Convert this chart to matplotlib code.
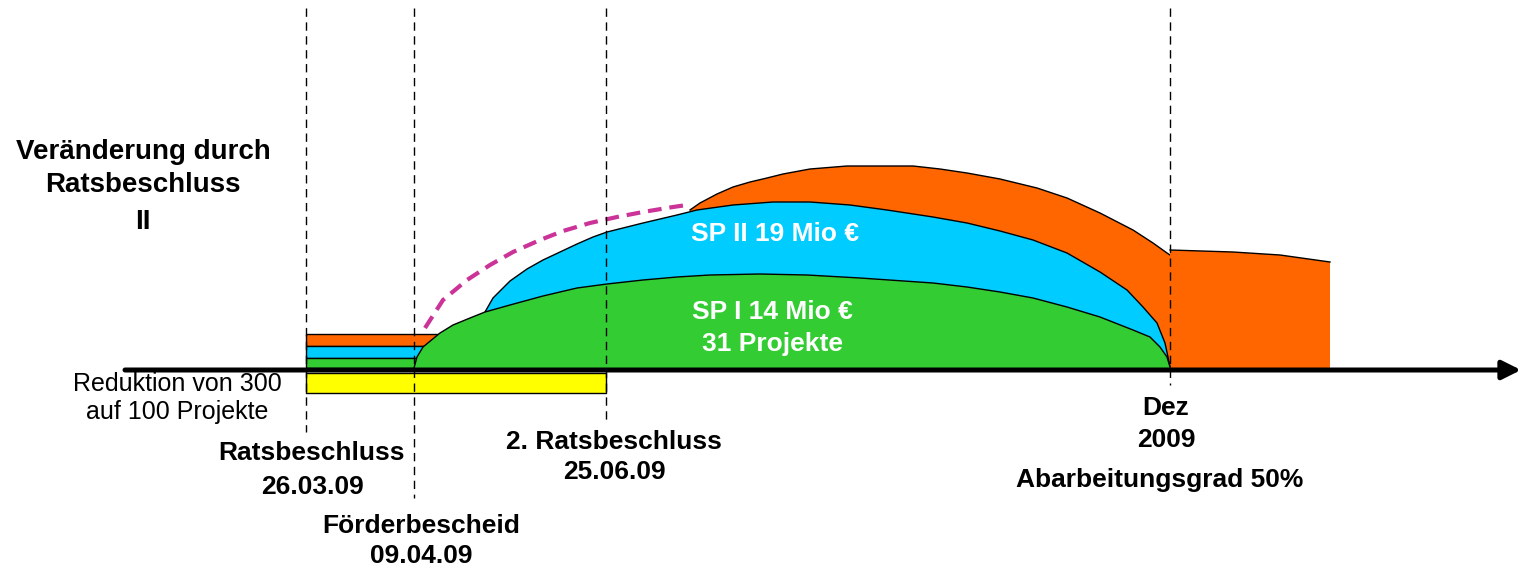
import matplotlib
matplotlib.use("Agg")
import matplotlib.pyplot as plt

plt.rcParams['font.family'] = ['Liberation Sans', 'DejaVu Sans']

# heights above the time axis (pixels of the original drawing)
green_x = [414, 417, 423, 440, 453, 470, 485, 510, 543, 577, 607, 643, 677, 710, 760, 807, 860,
           933, 967, 1000, 1033, 1067, 1100, 1133, 1150, 1160, 1167, 1170]
green_h = [2, 13, 23, 37, 45, 52, 58, 65, 74, 82, 86, 90, 93, 95, 96, 95, 92,
           87, 83, 78, 72, 63, 53, 40, 33, 23, 13, 3]

blue_x = [485, 493, 510, 527, 543, 560, 577, 593, 607, 643, 677, 697, 733, 773, 810, 850, 887,
          933, 967, 1000, 1033, 1067, 1100, 1127, 1143, 1157, 1165, 1168, 1170]
blue_h = [58, 72, 89, 101, 110, 118, 126, 133, 138, 147, 155, 160, 165, 168, 168, 165, 160,
          153, 147, 139, 130, 117, 98, 80, 63, 47, 27, 13, 3]

orange_x = [690, 700, 717, 733, 750, 767, 783, 810, 847, 913, 940, 967, 1000, 1037, 1067,
            1100, 1133, 1153, 1167, 1170]
orange_h = [160, 167, 176, 183, 188, 192, 196, 201, 204, 204, 201, 197, 191, 182, 172,
            157, 140, 127, 117, 115]

rest_x = [1170, 1233, 1280, 1330]
rest_h = [120, 118, 115, 108]

plan_x = [425, 443, 467, 490, 513, 540, 563, 590, 617, 643, 673, 687]
plan_h = [42, 70, 90, 105, 118, 130, 139, 147, 153, 158, 163, 165]

# old planning before the council decision (left bars)
bar_x = [306, 440]
bar_levels = [(24, 36, '#FF6600'), (12, 24, '#00CCFF'), (2, 12, '#33CC33')]
yellow_x = [306, 606]
yellow_h = [-3, -23]

event_x = [306, 414, 606, 1170]
event_bottom = [-62, -128, -52, -15]

fig = plt.figure(figsize=(15.21, 5.70), dpi=100)
ax = fig.add_axes([0, 0, 1, 1])
ax.set_xlim(0, 1521)
ax.set_ylim(-200, 370)
ax.axis('off')

for lo, hi, col in bar_levels:
    ax.fill_between(bar_x, lo, hi, facecolor=col, edgecolor='black', lw=1, zorder=1)
ax.fill_between(yellow_x, yellow_h[0], yellow_h[1], facecolor='#FFFF00', edgecolor='black', lw=1, zorder=1)

ax.fill_between(orange_x, 0, orange_h, facecolor='#FF6600', edgecolor='none', zorder=2)
ax.plot(orange_x, orange_h, color='black', lw=1, zorder=2)
ax.fill_between(blue_x, 0, blue_h, facecolor='#00CCFF', edgecolor='none', zorder=3)
ax.plot(blue_x, blue_h, color='black', lw=1, zorder=3)
ax.fill_between(green_x, 0, green_h, facecolor='#33CC33', edgecolor='none', zorder=4)
ax.plot(green_x, green_h, color='black', lw=1, zorder=4)

ax.fill_between(rest_x, 0, rest_h, facecolor='#FF6600', edgecolor='none', zorder=2)
ax.plot(rest_x, rest_h, color='black', lw=1, zorder=2)

ax.plot(plan_x, plan_h, color='#CC3399', lw=3, ls=(0, (3.3, 1.9)), zorder=5)

for x, b in zip(event_x, event_bottom):
    ax.plot([x, x], [362, b], color='black', lw=1, ls=(0, (6, 4)), zorder=6)

ax.annotate('', xy=(1521, 0), xytext=(125, 0),
            arrowprops=dict(arrowstyle='-|>', lw=3.6, color='black', mutation_scale=28,
                            shrinkA=0, shrinkB=0), zorder=7)

bold = dict(fontsize=19, fontweight='bold', ha='center', va='center', zorder=8)
title = dict(bold, fontsize=20)
ax.text(143, 370 - 152, 'Veränderung durch', **title)
ax.text(143, 370 - 185, 'Ratsbeschluss', **title)
ax.text(143, 370 - 222, 'II', **title)

ax.text(775, 370 - 234, 'SP II 19 Mio €', color='white', **bold)
ax.text(772, 370 - 312, 'SP I 14 Mio €', color='white', **bold)
ax.text(772, 370 - 344, '31 Projekte', color='white', **bold)

ax.text(177, 370 - 384, 'Reduktion von 300', fontsize=18, ha='center', va='center')
ax.text(177, 370 - 412, 'auf 100 Projekte', fontsize=18, ha='center', va='center')

ax.text(312, 370 - 453, 'Ratsbeschluss', **bold)
ax.text(312, 370 - 487, '26.03.09', **bold)
ax.text(421, 370 - 526, 'Förderbescheid', **bold)
ax.text(421, 370 - 556, '09.04.09', **bold)
ax.text(614, 370 - 442, '2. Ratsbeschluss', **bold)
ax.text(614, 370 - 472, '25.06.09', **bold)
ax.text(1166, 370 - 408, 'Dez', **bold)
ax.text(1166, 370 - 440, '2009', **bold)
ax.text(1160, 370 - 480, 'Abarbeitungsgrad 50%', **bold)

fig.savefig('out.png', dpi=100)
